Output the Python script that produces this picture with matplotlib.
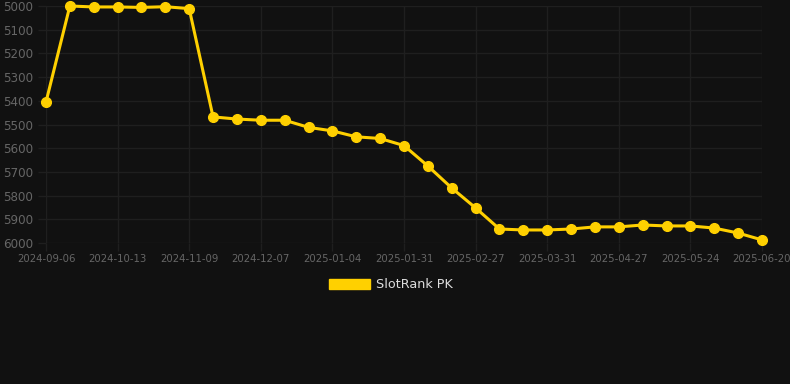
import matplotlib
matplotlib.use("Agg")
import matplotlib.pyplot as plt
from matplotlib.patches import Patch

# dates (category axis, every third one is labelled)
dates = [
    "2024-09-06", "2024-09-18", "2024-10-01", "2024-10-13", "2024-10-22", "2024-10-31",
    "2024-11-09", "2024-11-18", "2024-11-27", "2024-12-07", "2024-12-16", "2024-12-25",
    "2025-01-04", "2025-01-13", "2025-01-22", "2025-01-31", "2025-02-09", "2025-02-18",
    "2025-02-27", "2025-03-10", "2025-03-21", "2025-03-31", "2025-04-09", "2025-04-18",
    "2025-04-27", "2025-05-06", "2025-05-15", "2025-05-24", "2025-06-02", "2025-06-11",
    "2025-06-20",
]
rank = [
    5405, 5000, 5004, 5004, 5006, 5003,
    5011, 5468, 5477, 5482, 5482, 5512,
    5527, 5552, 5559, 5589, 5675, 5768,
    5852, 5941, 5945, 5945, 5941, 5932,
    5932, 5924, 5928, 5928, 5937, 5958,
    5987,
]
y_ticks = list(range(5000, 6001, 100))
series_name = "SlotRank PK"

BG = "#111111"
GRID = "#1f1f1f"
TXT = "#666666"
GOLD = "#FFD000"

fig = plt.figure(figsize=(7.9, 3.84), dpi=100, facecolor=BG)
ax = fig.add_axes([46 / 790, 1 - 243 / 384, (762 - 46) / 790, (243 - 6) / 384])
ax.set_facecolor(BG)

x = list(range(len(dates)))
ax.plot(x, rank, color=GOLD, linewidth=2.2, marker="o", markersize=7,
        markerfacecolor=GOLD, markeredgecolor=GOLD, clip_on=False, zorder=3)

ax.set_xlim(0, len(dates) - 1)
ax.set_ylim(6000, 5000)
ax.set_yticks(y_ticks)
ax.set_yticklabels([str(v) for v in y_ticks])
ax.set_xticks(x[::3])
ax.set_xticklabels(dates[::3])

ax.grid(True, color=GRID, linewidth=1)
ax.set_axisbelow(True)
for s in ax.spines.values():
    s.set_visible(False)
ax.tick_params(axis="both", colors=GRID, length=6, width=1)
ax.tick_params(axis="y", labelcolor=TXT, labelsize=8.6, pad=3)
ax.tick_params(axis="x", labelcolor=TXT, labelsize=7.3, pad=2)

fig.legend(handles=[Patch(facecolor=GOLD, edgecolor=GOLD, label=series_name)],
           loc="center", bbox_to_anchor=(391 / 790, 1 - 285 / 384),
           frameon=False, handlelength=3.2, handleheight=0.9, handletextpad=0.5,
           labelcolor="#dddddd", fontsize=9.2)

fig.savefig("out.png", dpi=100, facecolor=BG)
